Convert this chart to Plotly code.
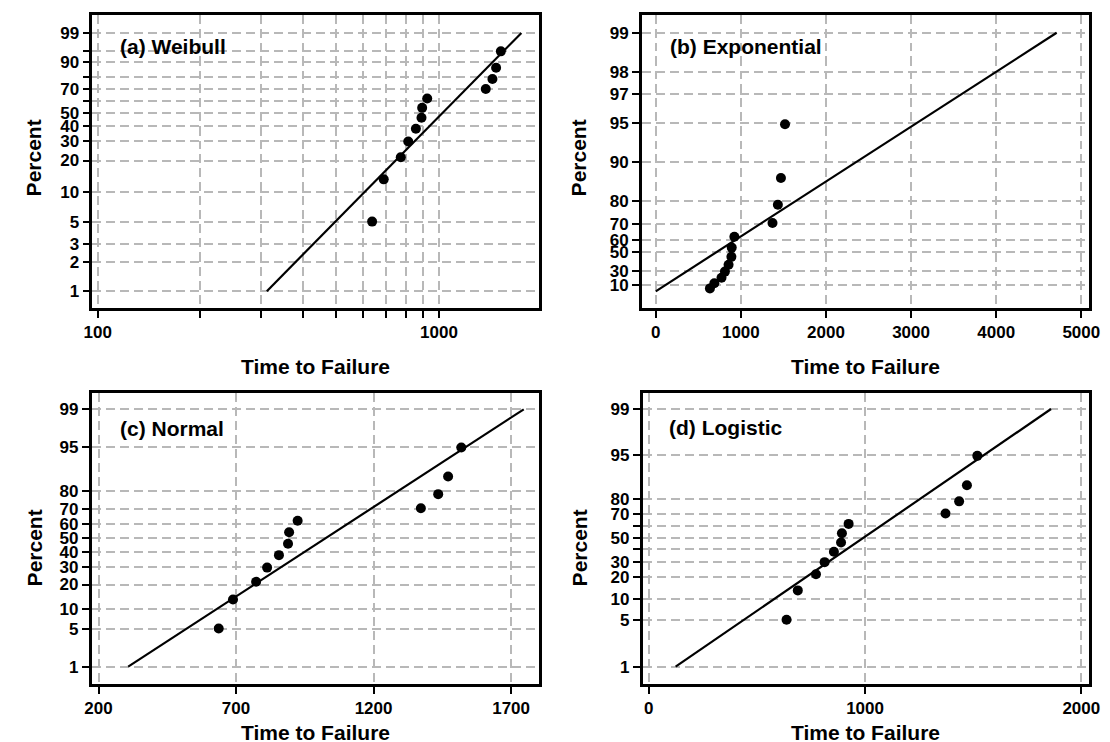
import numpy as np
import plotly.graph_objects as go
from statistics import NormalDist

# ---- data ----
times = [637, 689, 773, 813, 856, 889, 893, 924, 1372, 1435, 1471, 1519]
percent = [5.1, 13.3, 21.4, 29.6, 37.8, 45.9, 54.1, 62.2, 70.4, 78.6, 86.7, 94.9]

weibull_fit_t = [313, 1745]
weibull_fit_p = [1, 99]
expo_fit_t = [0, 4710]
expo_fit_p = [0, 99]
normal_fit_t = [308, 1746]
normal_fit_p = [1, 99]
logistic_fit_t = [124, 1860]
logistic_fit_p = [1, 99]

weibull_yticks = [1, 2, 3, 5, 10, 20, 30, 40, 50, 60, 70, 80, 90, 95, 99]
weibull_ylabels = ["1", "2", "3", "5", "10", "20", "30", "40", "50", "", "70", "", "90", "", "99"]
weibull_xticks = [100, 200, 300, 400, 500, 600, 700, 800, 900, 1000]
weibull_xlabels = ["100", "", "", "", "", "", "", "", "", "1000"]
expo_yticks = [10, 30, 50, 60, 70, 80, 90, 95, 97, 98, 99]
expo_xticks = [0, 1000, 2000, 3000, 4000, 5000]
normal_yticks = [1, 5, 10, 20, 30, 40, 50, 60, 70, 80, 95, 99]
normal_xticks = [200, 700, 1200, 1700]
logistic_yticks = [1, 5, 10, 20, 30, 40, 50, 60, 70, 80, 95, 99]
logistic_ylabels = ["1", "5", "10", "20", "30", "", "50", "", "70", "80", "95", "99"]
logistic_xticks = [0, 1000, 2000]

panel_titles = ["(a) Weibull", "(b) Exponential", "(c) Normal", "(d) Logistic"]

# ---- probability-scale transforms ----
nd = NormalDist()
def t_weib(p):
    return [float(np.log(-np.log(1 - v / 100.0))) for v in p]
def t_expo(p):
    return [float(-np.log(1 - v / 100.0)) for v in p]
def t_norm(p):
    return [nd.inv_cdf(v / 100.0) for v in p]
def t_logit(p):
    return [float(np.log(v / (100.0 - v))) for v in p]

W, H = 1110, 742
def px(x):
    return x / W
def py(y):
    return 1 - y / H

FONT = "Liberation Sans, Arial, sans-serif"
GRID = "#b8b8b8"

fig = go.Figure()

panels = [
    dict(tf=t_weib, ft=weibull_fit_t, fp=weibull_fit_p),
    dict(tf=t_expo, ft=expo_fit_t, fp=expo_fit_p),
    dict(tf=t_norm, ft=normal_fit_t, fp=normal_fit_p),
    dict(tf=t_logit, ft=logistic_fit_t, fp=logistic_fit_p),
]

for i, pnl in enumerate(panels):
    xa = "x" if i == 0 else f"x{i+1}"
    ya = "y" if i == 0 else f"y{i+1}"
    tf = pnl["tf"]
    fig.add_trace(go.Scatter(x=pnl["ft"], y=tf(pnl["fp"]), mode="lines",
                             line=dict(color="black", width=2.2),
                             xaxis=xa, yaxis=ya, showlegend=False, hoverinfo="skip"))
    fig.add_trace(go.Scatter(x=times, y=tf(percent), mode="markers",
                             marker=dict(color="black", size=10),
                             xaxis=xa, yaxis=ya, showlegend=False))

# panel pixel boxes: left, right, top, bottom
boxes = [
    (76.7, 531.8, 6.5, 300),
    (636.3, 1092, 6.5, 300),
    (76.0, 532.0, 384.5, 676),
    (637.0, 1092, 385, 676),
]

common_axis = dict(
    showline=True, linecolor="black", linewidth=2.5, mirror=True,
    ticks="outside", ticklen=7, tickwidth=2, tickcolor="black",
    showgrid=True, gridcolor=GRID, gridwidth=1.5, griddash="9px,5px",
    zeroline=False,
    tickfont=dict(family=FONT, size=17, color="black", weight="bold"),
)

yt = [
    (t_weib(weibull_yticks), weibull_ylabels, [-5.0, 1.965]),
    (t_expo(expo_yticks), [str(v) for v in expo_yticks], [-0.297, 4.931]),
    (t_norm(normal_yticks), [str(v) for v in normal_yticks], [-2.64, 2.63]),
    (t_logit(logistic_yticks), logistic_ylabels, [-5.213, 5.166]),
]
xt = [
    dict(type="log", range=[1.984, 3.294], tickvals=weibull_xticks, ticktext=weibull_xlabels),
    dict(type="linear", range=[-163, 5094], tickvals=expo_xticks, ticktext=[str(v) for v in expo_xticks]),
    dict(type="linear", range=[175, 1803], tickvals=normal_xticks, ticktext=[str(v) for v in normal_xticks]),
    dict(type="linear", range=[-29, 2037], tickvals=logistic_xticks, ticktext=[str(v) for v in logistic_xticks]),
]

layout_axes = {}
for i in range(4):
    l, r, t, b = boxes[i]
    xn = "xaxis" if i == 0 else f"xaxis{i+1}"
    yn = "yaxis" if i == 0 else f"yaxis{i+1}"
    ya_anchor = "y" if i == 0 else f"y{i+1}"
    xa_anchor = "x" if i == 0 else f"x{i+1}"
    layout_axes[xn] = dict(common_axis, domain=[px(l), px(r)], anchor=ya_anchor,
                           tickmode="array", **xt[i])
    tv, tt, rg = yt[i]
    layout_axes[yn] = dict(common_axis, domain=[py(b), py(t)], anchor=xa_anchor,
                           tickmode="array", tickvals=tv, ticktext=tt, range=rg)

fig.update_layout(**layout_axes)

# white boxes behind panel titles (cover grid lines)
title_boxes = [
    (88, 228, 10, 60),
    (655, 836, 14, 58),
    (86, 228, 389, 432),
    (645, 793, 389, 432),
]
shapes = []
for (x0, x1, y0, y1) in title_boxes:
    shapes.append(dict(type="rect", xref="paper", yref="paper",
                       x0=px(x0), x1=px(x1), y0=py(y1), y1=py(y0),
                       fillcolor="white", line=dict(width=0), layer="between"))

annotations = []
title_pos = [(103, 38), (663, 38), (103, 420), (662, 419)]
for (tx, ty), txt in zip(title_pos, panel_titles):
    annotations.append(dict(text=txt, x=px(tx), y=py(ty), xref="paper", yref="paper",
                            xanchor="left", yanchor="middle", showarrow=False,
                            font=dict(family=FONT, size=21, color="black", weight="bold")))

xtitle_y = [358, 358, 724, 724]
ytitle_y = [150, 150, 540, 540]
ytitle_x = [17.7, 572.7, 17.7, 572.7]
for i in range(4):
    l, r, t, b = boxes[i]
    annotations.append(dict(text="Time to Failure", x=px((l + r) / 2), y=py(xtitle_y[i]),
                            xref="paper", yref="paper", xanchor="center", yanchor="middle",
                            showarrow=False,
                            font=dict(family=FONT, size=21, color="black", weight="bold")))
    annotations.append(dict(text="Percent", x=px(ytitle_x[i]), y=py(ytitle_y[i]),
                            xref="paper", yref="paper", xanchor="center", yanchor="middle",
                            textangle=-90, showarrow=False,
                            font=dict(family=FONT, size=21, color="black", weight="bold")))

fig.update_layout(
    width=W, height=H,
    margin=dict(l=0, r=0, t=0, b=0),
    paper_bgcolor="white", plot_bgcolor="white",
    shapes=shapes, annotations=annotations,
    showlegend=False,
)

fig.write_html("out.html")
